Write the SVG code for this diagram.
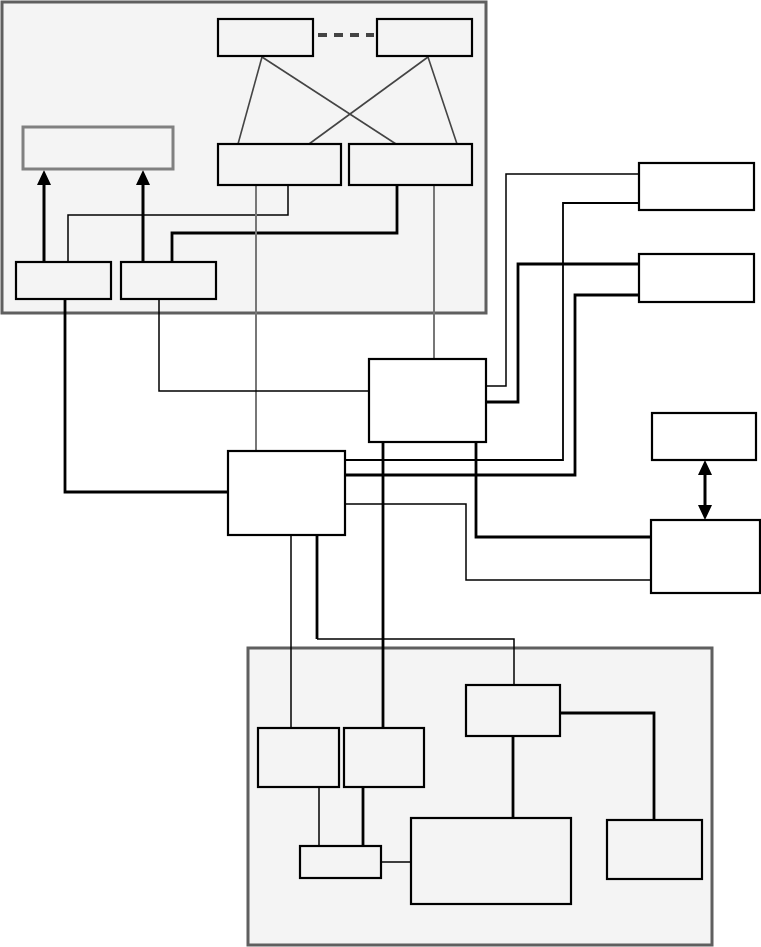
<svg xmlns="http://www.w3.org/2000/svg" width="761" height="947" viewBox="0 0 761 947">
<style>
.cont{fill:#f4f4f4;stroke:#5f5f5f;stroke-width:3}
.box{fill:#f4f4f4;stroke:#000;stroke-width:2.2}
.wbox{fill:#fff;stroke:#000;stroke-width:2.2}
.gbox{fill:#f4f4f4;stroke:#808080;stroke-width:3}
.c{fill:none;stroke:#000}
.t{stroke-width:1.5}
.k{stroke-width:2.8}
.g{fill:none;stroke:#444;stroke-width:1.6}
.gv{fill:none;stroke:#777;stroke-width:2}
</style>
<defs>
<marker id="ah" viewBox="0 0 15 14" refX="0" refY="7" markerWidth="15" markerHeight="14" markerUnits="userSpaceOnUse" orient="auto-start-reverse">
<path d="M0,0 L15,7 L0,14 z" fill="#000"/>
</marker>
</defs>
<g id="containers">
<rect id="top-container" class="cont" x="2" y="2" width="484" height="311"/>
<rect id="bottom-container" class="cont" x="248" y="648" width="464" height="297"/>
</g>
<g id="connectors">
<line x1="318" y1="35" x2="374" y2="35" stroke="#444" stroke-width="4" stroke-dasharray="9,7"/>
<line class="g" x1="262" y1="57" x2="238" y2="144"/>
<line class="g" x1="262" y1="57" x2="396" y2="144"/>
<line class="g" x1="428" y1="57" x2="309" y2="144"/>
<line class="g" x1="428" y1="57" x2="457" y2="144"/>
<line class="c" stroke-width="3" x1="44" y1="262" x2="44" y2="185" marker-end="url(#ah)"/>
<line class="c" stroke-width="3" x1="143" y1="262" x2="143" y2="185" marker-end="url(#ah)"/>
<polyline class="c t" points="288,185 288,215 68,215 68,262"/>
<polyline class="c k" points="397,185 397,233 172,233 172,262"/>
<line class="gv" x1="256" y1="185" x2="256" y2="451"/>
<line class="gv" x1="434" y1="185" x2="434" y2="359"/>
<polyline class="c k" points="65,299 65,492 228,492"/>
<polyline class="c t" points="159,299 159,391 369,391"/>
<polyline class="c t" points="486,386 506,386 506,174 639,174"/>
<polyline class="c k" points="486,402 518,402 518,264 639,264"/>
<polyline class="c" stroke-width="1.8" points="639,203 563,203 563,460 345,460"/>
<polyline class="c k" points="639,295 575,295 575,475 345,475"/>
<polyline class="c t" points="345,504 466,504 466,580 650,580"/>
<polyline class="c k" points="476,442 476,537 650,537"/>
<line class="c" stroke-width="3" x1="705" y1="475" x2="705" y2="505" marker-start="url(#ah)" marker-end="url(#ah)"/>
<line class="c t" x1="291" y1="535" x2="291" y2="728"/>
<polyline class="c k" points="317,535 317,639"/>
<polyline class="c t" points="317,639 514,639 514,685"/>
<line class="c k" x1="383" y1="442" x2="383" y2="728"/>
<line class="c t" x1="319" y1="787" x2="319" y2="846"/>
<line class="c k" x1="363" y1="787" x2="363" y2="846"/>
<line class="c t" x1="381" y1="862" x2="411" y2="862"/>
<line class="c k" x1="513" y1="736" x2="513" y2="818"/>
<polyline class="c k" points="560,713 654,713 654,820"/>
</g>
<g id="node-a"><rect class="box" x="218" y="19" width="95" height="37"/></g>
<g id="node-b"><rect class="box" x="377" y="19" width="95" height="37"/></g>
<g id="node-c"><rect class="box" x="218" y="144" width="123" height="41"/></g>
<g id="node-d"><rect class="box" x="349" y="144" width="123" height="41"/></g>
<g id="node-e"><rect class="gbox" x="23" y="127" width="150" height="42"/></g>
<g id="node-f"><rect class="box" x="16" y="262" width="95" height="37"/></g>
<g id="node-g"><rect class="box" x="121" y="262" width="95" height="37"/></g>
<g id="node-h"><rect class="wbox" x="228" y="451" width="117" height="84"/></g>
<g id="node-i"><rect class="wbox" x="369" y="359" width="117" height="83"/></g>
<g id="node-k"><rect class="wbox" x="639" y="163" width="115" height="47"/></g>
<g id="node-l"><rect class="wbox" x="639" y="254" width="115" height="48"/></g>
<g id="node-m"><rect class="wbox" x="652" y="413" width="104" height="47"/></g>
<g id="node-j"><rect class="wbox" x="651" y="520" width="109" height="73"/></g>
<g id="node-n"><rect class="box" x="258" y="728" width="81" height="59"/></g>
<g id="node-p"><rect class="box" x="344" y="728" width="80" height="59"/></g>
<g id="node-o"><rect class="box" x="466" y="685" width="94" height="51"/></g>
<g id="node-q"><rect class="box" x="300" y="846" width="81" height="32"/></g>
<g id="node-r"><rect class="box" x="411" y="818" width="160" height="86"/></g>
<g id="node-s"><rect class="box" x="607" y="820" width="95" height="59"/></g>
</svg>
